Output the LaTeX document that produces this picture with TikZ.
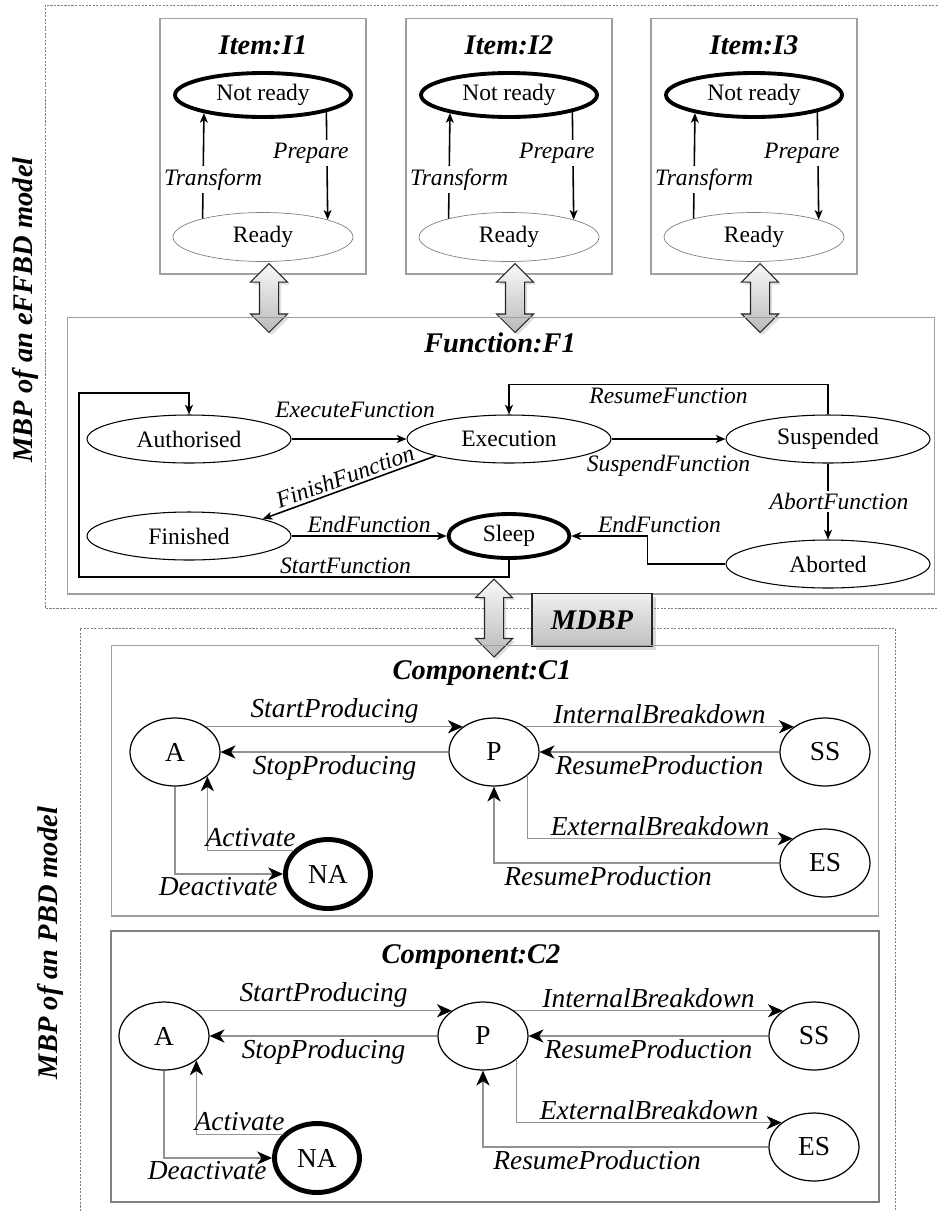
\documentclass[tikz,border=0pt]{standalone}
\usepackage{fontspec}
\setmainfont{Liberation Serif}
\usetikzlibrary{arrows.meta, shapes.geometric, shapes.arrows, shadows}

\newcommand{\lblfont}{\fontsize{13.4}{15}\selectfont}
\newcommand{\cmpfont}{\fontsize{15.6}{18}\selectfont}
\newcommand{\hdfont}{\fontsize{16.2}{19}\selectfont\bfseries\itshape}

\tikzset{
  frame/.style={draw=gray!75, line width=0.6pt, inner sep=0pt},
  region/.style={draw=gray, dash pattern=on 1.2pt off 0.8pt, line width=0.4pt},
  heading/.style={font=\hdfont, inner sep=1pt},
  state/.style={ellipse, draw, line width=0.6pt, font=\lblfont, minimum width=4.08cm, minimum height=0.96cm, inner sep=0pt},
  initial/.style={line width=2.2pt},
  trans/.style={-{Stealth[length=5.5pt,width=4.5pt,inset=1.5pt]}, line width=0.9pt},
  act/.style={font=\lblfont\itshape, inner sep=1.5pt},
  mode/.style={ellipse, draw, line width=0.7pt, font=\cmpfont, minimum width=1.8cm, minimum height=1.36cm, inner sep=0pt},
  event/.style={-{Stealth[length=8.5pt,width=7.5pt,inset=2.5pt,color=black]}, draw=gray!85, line width=0.6pt},
  ev/.style={font=\cmpfont\itshape, inner sep=1.5pt},
  link/.style={double arrow, shape border rotate=90, draw=black!85, line width=0.6pt,
    top color=gray!5, bottom color=gray!55, minimum width=0.72cm, inner sep=0.18cm,
    double arrow head extend=0.18cm, drop shadow={opacity=0.25, shadow xshift=1.5pt, shadow yshift=-1.5pt}}
}

\begin{document}
\begin{tikzpicture}[x=0.02cm, y=-0.02cm]
\useasboundingbox (0,0) rectangle (938,1211);

% the two model regions
\draw[region] (938,5) -- (45,5) -- (45,608) -- (938,608);
\draw[region] (80,1211) -- (80,628) -- (895,628) -- (895,1211);
\node[heading, rotate=90] (effbd) at (26,310) {MBP of an eFFBD model};
\node[heading, rotate=90] (pbd) at (51,943) {MBP of an PBD model};

% items
\foreach \i/\cx in {1/263, 2/509, 3/754} {
  \node[frame, minimum width=4.12cm, minimum height=5.12cm] (item\i) at (\cx,146) {};
  \node[heading] (ihead\i) at (\cx,45) {Item:I\i};
  \node[state, initial, minimum width=3.52cm, minimum height=0.88cm] (nr\i) at (\cx,95) {Not ready};
  \node[state, draw=gray, line width=0.4pt, minimum width=3.6cm, minimum height=0.98cm] (rd\i) at (\cx,237) {Ready};
  \draw[trans] (rd\i.163) -- node[act, fill=white, pos=0.37, xshift=0.2cm] {Transform} (nr\i.197);
  \draw[trans] (nr\i.345) -- node[act, fill=white, pos=0.38, xshift=-0.32cm] {Prepare} (rd\i.15);
  \node[link, minimum height=1.38cm] (lk\i) at (\cx+6,298) {};
}

% function
\node[frame, minimum width=17.36cm, minimum height=5.54cm] (func) at (501,455.5) {};
\node[heading] (fhead) at (500,343) {Function:F1};
\node[state] (auth) at (189,439) {Authorised};
\node[state] (exec) at (509,439) {Execution};
\node[state] (susp) at (828,439) {Suspended};
\node[state] (fin) at (189,536) {Finished};
\node[state, initial, minimum width=2.42cm, minimum height=0.88cm] (sleep) at (509,536) {Sleep};
\node[state] (abort) at (828,564) {Aborted};

\draw[trans] (auth) -- node[act, above=10pt, xshift=0.12cm] {ExecuteFunction} (exec);
\draw[trans] (exec) -- node[act, below=7pt] {SuspendFunction} (susp);
\draw[trans] (susp.north) -- ++(0,-30) -| node[act, pos=0.25, below] {ResumeFunction} (exec.north);
\draw[trans] (exec.193) -- node[act, sloped, above] {FinishFunction} (fin.13);
\draw[trans] (fin) -- node[act, above] {EndFunction} (sleep);
\draw[trans] (susp) -- node[act, fill=white, xshift=0.22cm] {AbortFunction} (abort);
\draw[trans] (abort.west) -- ++(-78,0) |- node[act, pos=0.5, above, xshift=0.24cm] {EndFunction} (sleep.east);
\draw[trans] (sleep.south) -- ++(0,17) -| node[act, pos=0.19, above] {StartFunction} ++(-430,-184) -| (auth.north);

% link to the components
\node[link, minimum height=1.56cm] (lkf) at (494,618) {};
\node[draw=black!85, line width=0.8pt, top color=gray!12, bottom color=gray!50, minimum width=2.4cm, minimum height=1.06cm,
  font=\hdfont, drop shadow={opacity=0.3, shadow xshift=2pt, shadow yshift=-2pt}] (mdbp) at (592,620) {MDBP};

% components
\node[frame, minimum width=15.36cm, minimum height=5.42cm] (comp1) at (495,780.5) {};
\node[frame, draw=gray, line width=1.1pt, minimum width=15.36cm, minimum height=5.42cm] (comp2) at (495,1066.5) {};
\foreach \c/\dx/\dy in {1/0/0, 2/-11/284} {
  \begin{scope}[shift={(\dx,\dy)}]
    \node[heading] (chead\c) at (482,673) {Component:C\c};
    \node[mode] (A\c) at (175,752) {A};
    \node[mode] (P\c) at (494,752) {P};
    \node[mode] (SS\c) at (825,752) {SS};
    \node[mode] (ES\c) at (825,863) {ES};
    \node[mode, initial, line width=2.8pt, minimum width=1.7cm, minimum height=1.38cm] (NA\c) at (328,874) {NA};
    \draw[event] (A\c.39) -- node[ev, above] {StartProducing} (P\c.141);
    \draw[event] (P\c) -- node[ev, below] {StopProducing} (A\c);
    \draw[event] (P\c.39) -- node[ev, above] {InternalBreakdown} (SS\c.141);
    \draw[event] (SS\c) -- node[ev, below] {ResumeProduction} (P\c);
    \draw[event] (P\c.325) |- node[ev, pos=0.75, above] {ExternalBreakdown} (ES\c.143);
    \draw[event] (ES\c.west) -| node[ev, pos=0.3, below] {ResumeProduction} (P\c.south);
    \draw[event] (NA\c.145) -| node[ev, pos=0.25, above] {Activate} (A\c.323);
    \draw[event] (A\c.south) |- node[ev, pos=0.7, below] {Deactivate} (NA\c.west);
  \end{scope}
}
\end{tikzpicture}
\end{document}
